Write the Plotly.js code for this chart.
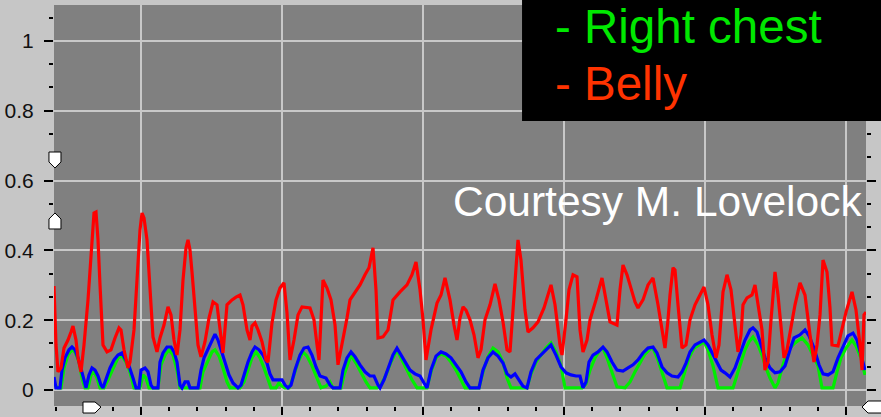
<!DOCTYPE html>
<html>
<head>
<meta charset="utf-8">
<script src="https://cdn.plot.ly/plotly-3.0.1.min.js"></script>
<style>
  html, body { margin: 0; padding: 0; background: #c6c6c6; }
  #chart { width: 881px; height: 417px; }
</style>
</head>
<body>
<div id="chart"></div>
<script>
// Respiration sensor traces, sample frames on x, normalised amplitude on y.

// Belly sensor (red)
const bellyT = [0,2,4,7,10,14,17,19,22,24,27,30,34,37,40,42,44,46,49,53,57,61,65,67,70,74,76,80,83,86,88,90,93,96,99,103,106,110,114,117,120,123,126,129,132,134,136,138,141,144,147,151,155,159,163,166,169,173,178,182,186,189,193,196,198,201,204,208,212,214,218,222,226,230,233,236,240,244,248,256,260,263,265,269,273,277,281,284,289,293,296,301,306,311,315,319,322,324,329,334,339,346,353,358,362,366,369,372,377,383,387,391,396,400,403,406,409,412,416,420,424,427,431,436,441,445,449,453,456,459,462,464,467,471,474,479,484,490,497,501,506,508,512,515,519,523,526,529,533,536,542,548,552,556,563,566,569,573,576,581,584,589,594,599,604,608,611,614,616,619,621,624,628,632,636,641,646,650,654,658,662,665,669,673,677,681,684,687,689,693,698,701,704,708,711,714,717,721,724,727,730,733,736,741,746,751,756,760,763,766,769,773,776,778,784,788,792,798,802,806,808,810,812];
const bellyV = [0.298,0.129,0.052,0.063,0.120,0.143,0.166,0.183,0.143,0.092,0.052,0.129,0.258,0.401,0.507,0.510,0.430,0.301,0.129,0.109,0.115,0.149,0.178,0.172,0.115,0.063,0.080,0.172,0.315,0.458,0.507,0.493,0.430,0.272,0.152,0.109,0.149,0.186,0.238,0.215,0.143,0.100,0.172,0.315,0.407,0.430,0.401,0.338,0.223,0.129,0.095,0.138,0.206,0.252,0.244,0.166,0.106,0.244,0.258,0.266,0.272,0.244,0.172,0.143,0.183,0.192,0.172,0.138,0.086,0.080,0.192,0.258,0.292,0.307,0.221,0.086,0.143,0.215,0.238,0.235,0.201,0.129,0.086,0.315,0.292,0.258,0.186,0.072,0.143,0.206,0.258,0.281,0.301,0.330,0.350,0.407,0.287,0.149,0.152,0.172,0.258,0.281,0.301,0.330,0.367,0.287,0.201,0.086,0.172,0.249,0.272,0.321,0.258,0.186,0.143,0.206,0.238,0.229,0.201,0.158,0.092,0.115,0.201,0.244,0.304,0.258,0.195,0.115,0.109,0.229,0.344,0.430,0.372,0.229,0.166,0.178,0.195,0.235,0.301,0.244,0.129,0.100,0.201,0.287,0.330,0.324,0.172,0.109,0.143,0.201,0.258,0.321,0.258,0.195,0.186,0.287,0.358,0.330,0.301,0.252,0.235,0.258,0.301,0.321,0.244,0.172,0.120,0.201,0.272,0.350,0.344,0.244,0.120,0.129,0.201,0.244,0.272,0.295,0.244,0.158,0.092,0.129,0.281,0.330,0.287,0.178,0.109,0.158,0.244,0.264,0.272,0.301,0.244,0.172,0.057,0.080,0.201,0.338,0.272,0.172,0.092,0.115,0.166,0.244,0.307,0.272,0.158,0.080,0.129,0.215,0.372,0.338,0.235,0.129,0.126,0.172,0.223,0.281,0.229,0.129,0.057,0.215,0.223];

// Left chest sensor (blue)
const leftChestT = [0,2,6,8,11,15,18,21,24,27,30,32,35,38,41,44,47,49,52,56,60,64,68,71,75,79,82,85,87,91,94,97,99,104,106,109,113,117,120,123,126,128,131,134,136,144,147,150,154,158,161,164,167,171,175,179,184,187,190,194,198,201,205,209,213,216,219,228,231,234,237,241,246,250,254,258,262,266,272,276,279,286,289,293,297,301,306,311,316,320,324,326,330,334,339,343,347,351,356,361,366,370,373,377,382,387,392,397,402,407,412,416,425,429,434,439,444,449,453,457,461,465,469,473,477,482,487,492,497,502,507,512,517,522,526,529,532,535,539,544,549,553,558,563,569,574,579,584,589,594,599,603,608,613,618,624,628,632,636,641,646,650,654,659,663,667,671,676,681,686,691,696,699,703,707,711,716,721,726,731,736,740,746,751,755,760,765,769,774,779,784,789,794,799,803,807,811];
const leftChestV = [0.037,0.006,0.006,0.057,0.092,0.115,0.123,0.115,0.092,0.063,0.029,0.006,0.043,0.063,0.057,0.040,0.014,0.006,0.029,0.063,0.086,0.100,0.106,0.092,0.069,0.034,0.006,0.006,0.057,0.063,0.052,0.014,0.006,0.006,0.080,0.106,0.123,0.123,0.109,0.080,0.014,0.006,0.023,0.023,0.006,0.006,0.057,0.092,0.115,0.143,0.160,0.143,0.115,0.080,0.043,0.020,0.006,0.014,0.043,0.080,0.109,0.123,0.115,0.100,0.077,0.046,0.029,0.029,0.014,0.006,0.014,0.057,0.100,0.120,0.123,0.100,0.066,0.040,0.034,0.014,0.006,0.006,0.057,0.092,0.109,0.095,0.072,0.052,0.040,0.040,0.014,0.006,0.029,0.063,0.100,0.120,0.100,0.080,0.057,0.046,0.040,0.020,0.006,0.057,0.097,0.109,0.103,0.092,0.072,0.052,0.023,0.006,0.006,0.057,0.092,0.109,0.097,0.077,0.046,0.037,0.046,0.029,0.011,0.006,0.052,0.086,0.100,0.115,0.129,0.100,0.066,0.049,0.043,0.040,0.040,0.006,0.023,0.080,0.100,0.109,0.123,0.109,0.080,0.057,0.054,0.063,0.072,0.086,0.106,0.120,0.123,0.106,0.066,0.049,0.040,0.037,0.052,0.077,0.109,0.129,0.138,0.143,0.129,0.100,0.080,0.057,0.049,0.037,0.063,0.100,0.143,0.172,0.178,0.166,0.129,0.092,0.063,0.049,0.052,0.069,0.115,0.149,0.158,0.172,0.155,0.120,0.072,0.046,0.043,0.052,0.092,0.126,0.155,0.163,0.143,0.100,0.057];

// Right chest sensor (green)
const rightChestT = [0,4,7,10,14,18,21,25,28,31,34,37,40,43,46,50,54,59,64,68,72,76,80,86,89,92,95,104,107,111,115,119,123,126,146,149,154,158,161,165,169,173,176,186,190,194,198,202,206,210,214,217,222,225,228,231,235,239,244,249,253,258,263,267,272,276,279,287,290,294,297,302,307,312,316,323,327,332,337,343,348,353,358,363,373,377,382,387,392,397,402,407,411,425,429,434,439,444,449,453,457,473,477,482,487,492,497,502,507,511,528,532,536,541,546,549,553,558,563,571,576,581,586,591,596,599,604,609,613,626,630,635,640,646,650,654,659,664,679,683,687,691,695,699,704,708,712,716,721,724,729,734,741,748,754,759,764,768,779,783,787,792,798,802,807,811];
const rightChestV = [0.014,0.006,0.006,0.063,0.100,0.115,0.109,0.080,0.034,0.006,0.006,0.043,0.052,0.034,0.006,0.006,0.029,0.063,0.092,0.097,0.080,0.052,0.006,0.006,0.043,0.034,0.006,0.006,0.072,0.100,0.115,0.100,0.057,0.006,0.006,0.052,0.086,0.109,0.115,0.097,0.063,0.023,0.006,0.006,0.023,0.057,0.092,0.109,0.092,0.063,0.029,0.006,0.006,0.020,0.011,0.006,0.006,0.034,0.080,0.109,0.097,0.069,0.034,0.006,0.011,0.023,0.006,0.006,0.043,0.080,0.100,0.077,0.049,0.023,0.006,0.006,0.014,0.043,0.080,0.115,0.086,0.057,0.029,0.006,0.006,0.052,0.092,0.103,0.097,0.080,0.057,0.029,0.006,0.006,0.052,0.095,0.120,0.109,0.080,0.034,0.006,0.006,0.046,0.080,0.100,0.120,0.135,0.109,0.069,0.006,0.006,0.017,0.057,0.092,0.115,0.120,0.092,0.052,0.009,0.006,0.023,0.052,0.080,0.103,0.117,0.120,0.086,0.040,0.006,0.006,0.043,0.092,0.120,0.132,0.138,0.115,0.069,0.006,0.006,0.043,0.080,0.115,0.138,0.152,0.129,0.100,0.063,0.034,0.006,0.020,0.072,0.115,0.135,0.149,0.129,0.100,0.069,0.006,0.006,0.052,0.092,0.120,0.143,0.126,0.092,0.043];

// Legend captions and credit line
const legendLabels = ['- Right chest', '- Belly'];
const legendColors = ['#00e800', '#ff3300'];
const creditText = 'Courtesy M. Lovelock';

const lineStyle = (color) => ({ color: color, width: 3.2, shape: 'linear' });

const traces = [
  { x: rightChestT, y: rightChestV, type: 'scatter', mode: 'lines', line: lineStyle('#00ee00'), name: 'Right chest' },
  { x: leftChestT,  y: leftChestV,  type: 'scatter', mode: 'lines', line: lineStyle('#0000ff'), name: 'Left chest' },
  { x: bellyT,      y: bellyV,      type: 'scatter', mode: 'lines', line: lineStyle('#ff0000'), name: 'Belly' }
];

const tickFont = { family: '"Liberation Sans Narrow", "Arial Narrow", "Liberation Sans", Arial, sans-serif', size: 21, color: '#111111' };

// small white slider handles sitting on the axes (paper coordinates)
const handle = (path) => ({
  type: 'path', xref: 'paper', yref: 'paper', path: path,
  fillcolor: '#ffffff', line: { color: '#000000', width: 1 }, layer: 'above'
});

const layout = {
  width: 881, height: 417,
  margin: { l: 54, r: 15, t: 5, b: 11, pad: 0 },
  paper_bgcolor: '#c6c6c6',
  plot_bgcolor: '#808080',
  showlegend: false,
  hovermode: false,
  xaxis: {
    range: [0, 812],
    tick0: 87, dtick: 141,
    showgrid: true, gridcolor: '#c8c8c8', gridwidth: 2,
    zeroline: false, showline: false,
    ticks: 'outside', ticklen: 8, tickwidth: 2, tickcolor: '#000000',
    showticklabels: false,
    minor: { tick0: 87, dtick: 28.2, ticks: 'outside', ticklen: 4, tickwidth: 2, tickcolor: '#000000', showgrid: false }
  },
  yaxis: {
    range: [-0.046, 1.103],
    tick0: 0, dtick: 0.2,
    showgrid: true, gridcolor: '#c8c8c8', gridwidth: 2,
    zeroline: false, showline: false,
    ticks: 'outside', ticklen: 9, tickwidth: 2, tickcolor: '#000000',
    mirror: 'ticks',
    tickfont: tickFont,
    ticklabelstandoff: 6,
    minor: { tick0: 0, dtick: 0.2 / 3, ticks: 'outside', ticklen: 4, tickwidth: 2, tickcolor: '#000000', showgrid: false }
  },
  shapes: [
    { type: 'rect', xref: 'paper', yref: 'paper', x0: 0.5764, x1: 1.02, y0: 0.7107, y1: 1.02,
      fillcolor: '#000000', line: { width: 0 }, layer: 'above' },
    handle('M -0.0062 0.6334 L 0.0086 0.6334 L 0.0086 0.6085 L 0.0012 0.5935 L -0.0062 0.6085 Z'),
    handle('M -0.0062 0.4414 L 0.0086 0.4414 L 0.0086 0.4663 L 0.0012 0.4813 L -0.0062 0.4663 Z'),
    handle('M 0.0357 0.0100 L 0.0505 0.0100 L 0.0579 -0.0025 L 0.0505 -0.0175 L 0.0357 -0.0175 Z'),
    handle('M 1.0200 0.0125 L 1.0025 0.0125 L 0.9951 -0.0025 L 1.0025 -0.0175 L 1.0200 -0.0175 Z')
  ],
  annotations: [
    { text: legendLabels[0], xref: 'paper', yref: 'paper', x: 0.6145, y: 0.947, xanchor: 'left', yanchor: 'middle',
      showarrow: false, font: { family: '"Liberation Sans", Arial, sans-serif', size: 47.5, color: legendColors[0] } },
    { text: legendLabels[1], xref: 'paper', yref: 'paper', x: 0.6145, y: 0.805, xanchor: 'left', yanchor: 'middle',
      showarrow: false, font: { family: '"Liberation Sans", Arial, sans-serif', size: 47.5, color: legendColors[1] } },
    { text: creditText, xref: 'paper', yref: 'paper', x: 0.997, y: 0.51, xanchor: 'right', yanchor: 'middle',
      showarrow: false, font: { family: '"Liberation Sans", Arial, sans-serif', size: 42.5, color: '#ffffff' } }
  ]
};

Plotly.newPlot('chart', traces, layout, { displayModeBar: false, staticPlot: true });
</script>
</body>
</html>
